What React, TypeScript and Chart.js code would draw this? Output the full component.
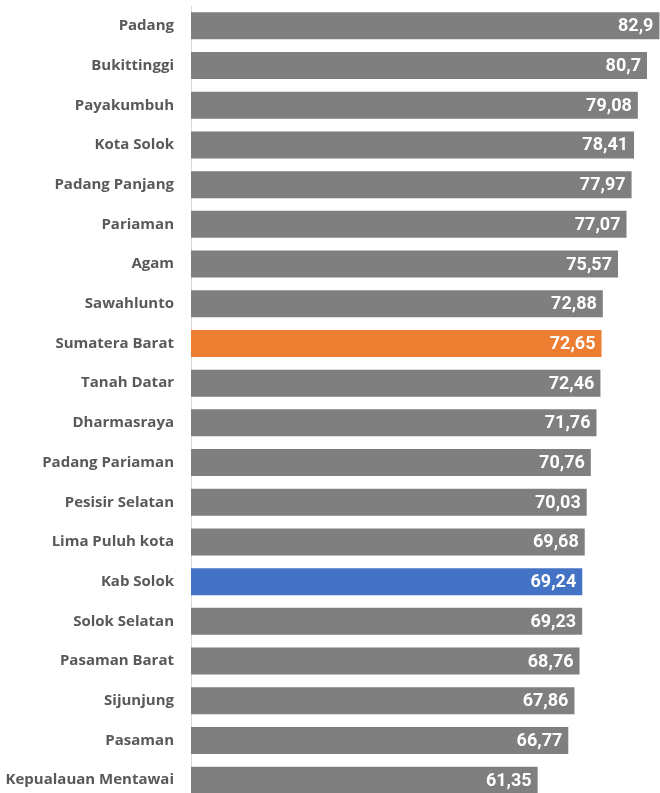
import React, { useEffect, useRef } from "react";
import { Chart, registerables } from "chart.js";

Chart.register(...registerables);

const categories = [
  "Padang",
  "Bukittinggi",
  "Payakumbuh",
  "Kota Solok",
  "Padang Panjang",
  "Pariaman",
  "Agam",
  "Sawahlunto",
  "Sumatera Barat",
  "Tanah Datar",
  "Dharmasraya",
  "Padang Pariaman",
  "Pesisir Selatan",
  "Lima Puluh kota",
  "Kab Solok",
  "Solok Selatan",
  "Pasaman Barat",
  "Sijunjung",
  "Pasaman",
  "Kepualauan Mentawai",
];

const values = [
  82.9, 80.7, 79.08, 78.41, 77.97, 77.07, 75.57, 72.88, 72.65, 72.46, 71.76,
  70.76, 70.03, 69.68, 69.24, 69.23, 68.76, 67.86, 66.77, 61.35,
];

const highlightProvince = "Sumatera Barat";
const highlightRegency = "Kab Solok";

const GRAY = "#7F7F7F";
const ORANGE = "#ED7D31";
const BLUE = "#4472C4";

const valueLabelPlugin = {
  id: "valueLabels",
  afterDatasetsDraw(chart: any) {
    const { ctx } = chart;
    const meta = chart.getDatasetMeta(0);
    ctx.save();
    ctx.font = "bold 18px Roboto";
    ctx.fillStyle = "#FFFFFF";
    ctx.textAlign = "right";
    ctx.textBaseline = "middle";
    meta.data.forEach((bar: any, i: number) => {
      const text = String(values[i]).replace(".", ",");
      const x = Math.min(bar.x - 6, chart.chartArea.right - 5);
      ctx.fillText(text, x, bar.y + 1);
    });
    ctx.restore();
  },
};

export default function App() {
  const canvasRef = useRef<HTMLCanvasElement>(null);

  useEffect(() => {
    if (!canvasRef.current) return;
    const colors = categories.map((c) =>
      c === highlightProvince ? ORANGE : c === highlightRegency ? BLUE : GRAY
    );
    const chart = new Chart(canvasRef.current, {
      type: "bar",
      data: {
        labels: categories,
        datasets: [
          {
            data: values,
            backgroundColor: colors,
            borderWidth: 0,
            categoryPercentage: 1,
            barPercentage: 0.68,
          },
        ],
      },
      options: {
        indexAxis: "y",
        responsive: false,
        animation: false,
        layout: { padding: { top: 6, bottom: 0, left: 0, right: 0 } },
        plugins: {
          legend: { display: false },
          tooltip: { enabled: false },
        },
        scales: {
          x: {
            display: false,
            min: 0,
            max: 83,
          },
          y: {
            afterFit(scale: any) {
              scale.width = 191;
              scale.paddingTop = 0;
              scale.paddingBottom = 0;
            },
            grid: { display: false, drawTicks: false },
            border: { display: true, color: "#D9D9D9", width: 1 },
            ticks: {
              padding: 17,
              color: "#595959",
              font: { family: "Open Sans", weight: "bold", size: 15 },
            },
          },
        },
      },
      plugins: [valueLabelPlugin],
    });
    return () => chart.destroy();
  }, []);

  return (
    <div
      style={{
        position: "fixed",
        left: 0,
        top: 0,
        width: 660,
        height: 793,
        overflow: "hidden",
        background: "#FFFFFF",
      }}
    >
      <canvas ref={canvasRef} width={660} height={800} />
    </div>
  );
}
